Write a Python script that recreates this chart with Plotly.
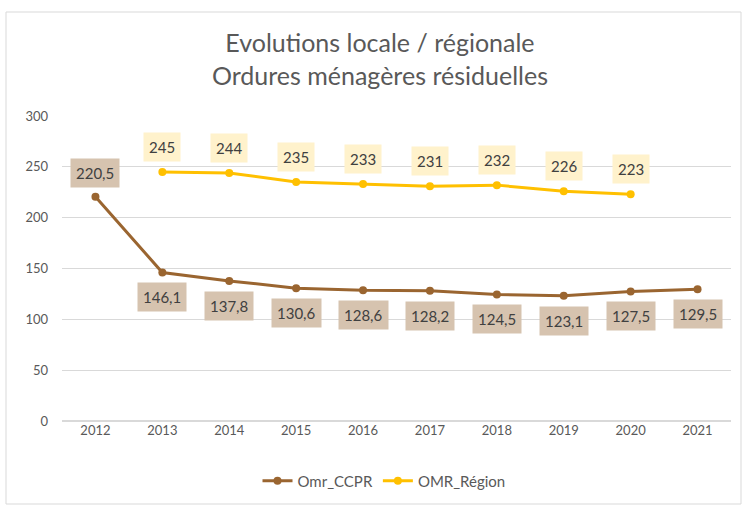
import plotly.graph_objects as go

years = ["2012", "2013", "2014", "2015", "2016", "2017", "2018", "2019", "2020", "2021"]
omr_ccpr = [220.5, 146.1, 137.8, 130.6, 128.6, 128.2, 124.5, 123.1, 127.5, 129.5]
omr_region = [None, 245, 244, 235, 233, 231, 232, 226, 223, None]
ccpr_labels = ["220,5", "146,1", "137,8", "130,6", "128,6", "128,2", "124,5", "123,1", "127,5", "129,5"]
region_labels = [None, "245", "244", "235", "233", "231", "232", "226", "223", None]

BROWN = "#9A6530"
YELLOW = "#FFC000"
FONT = "Lato, Open Sans, sans-serif"

fig = go.Figure()
fig.add_trace(go.Scatter(x=years, y=omr_ccpr, mode="lines+markers", name="Omr_CCPR",
                         line=dict(color=BROWN, width=3), marker=dict(size=8, color=BROWN)))
fig.add_trace(go.Scatter(x=years, y=omr_region, mode="lines+markers", name="OMR_Région",
                         line=dict(color=YELLOW, width=3), marker=dict(size=8, color=YELLOW)))

annotations = []
for i, (y, t) in enumerate(zip(omr_ccpr, ccpr_labels)):
    above = i == 0
    annotations.append(dict(x=i, y=y, xref="x", yref="y", text=t, showarrow=False,
                            yshift=24 if above else -25,
                            bgcolor="#D6C3AF", borderpad=5,
                            font=dict(size=15, color="#404040", family=FONT)))
for i, (y, t) in enumerate(zip(omr_region, region_labels)):
    if y is None:
        continue
    annotations.append(dict(x=i, y=y, xref="x", yref="y", text=t, showarrow=False, yshift=25,
                            bgcolor="#FFF2CC", borderpad=5,
                            font=dict(size=15, color="#404040", family=FONT)))

fig.update_layout(
    width=745, height=505,
    margin=dict(l=62, r=14, t=116, b=84),
    paper_bgcolor="white", plot_bgcolor="white",
    font=dict(family=FONT, color="#595959", size=13),
    title=dict(text="Evolutions locale / régionale<br>Ordures ménagères résiduelles",
               x=0.51, xanchor="center", y=0.897, yanchor="top",
               font=dict(size=25, color="#595959", family=FONT)),
    xaxis=dict(type="category", range=[-0.5, 9.5], showgrid=False, showline=False,
               ticks="", tickfont=dict(size=13, color="#595959")),
    yaxis=dict(range=[0, 300], dtick=50, showgrid=True, gridcolor="#D9D9D9", gridwidth=1,
               zeroline=True, zerolinecolor="#D9D9D9", showline=False, ticks="",
               tickfont=dict(size=13, color="#595959"), ticklabelstandoff=13),
    legend=dict(orientation="h", x=(384 - 62) / 669, xanchor="center", yref="container",
                y=24 / 505, yanchor="middle",
                font=dict(size=15, color="#595959")),
    annotations=annotations,
    shapes=[dict(type="rect", xref="paper", yref="paper",
                 x0=(6 - 62) / 669, x1=(741 - 62) / 669,
                 y0=(421 - 504) / 305, y1=(421 - 12) / 305,
                 line=dict(color="#D9D9D9", width=1), layer="below")],
)

fig.write_html("out.html", config={"displayModeBar": False},
               post_script="document.body.style.margin='0';")
